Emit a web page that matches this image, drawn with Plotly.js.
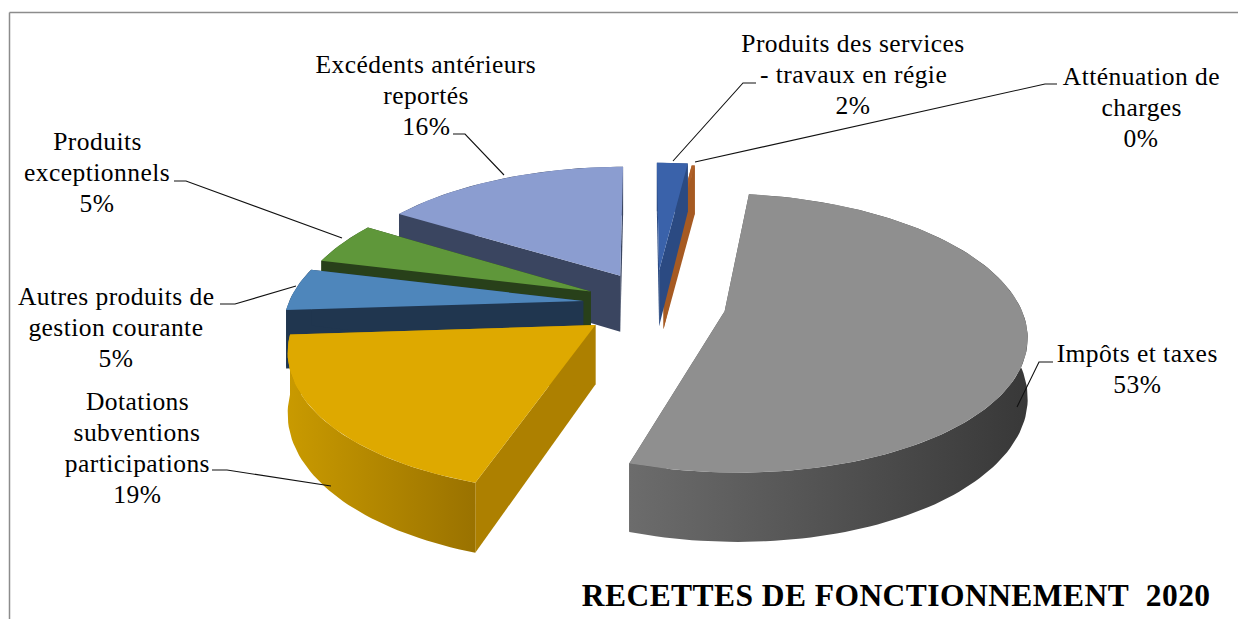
<!DOCTYPE html>
<html><head><meta charset="utf-8">
<script src="https://cdn.plot.ly/plotly-3.0.1.min.js"></script>
<style>html,body{margin:0;padding:0;background:#fff}#c{width:1238px;height:619px}
#c .annotation-text{letter-spacing:0.45px}</style>
</head><body><div id="c"></div>
<script>
// Data, clockwise starting from the first slice
const categories = ["Produits des services|- travaux en régie","Atténuation de|charges","Impôts et taxes","Dotations|subventions|participations","Autres produits de|gestion courante","Produits|exceptionnels","Excédents antérieurs|reportés"];
const values = [2, 0.2, 53, 19, 5, 5, 16];
// Styles
const topColors = ["#3a62aa","#b06028","#8f8f8f","#dea900","#4e86bb","#5f973a","#8b9dd0"];
const wallLeft  = ["#2b4a82","#a65a22","#6c6c6c","#c99a00","#20364f","#28401a","#3a4560"];
const wallRight = ["#2b4a82","#a65a22","#383838","#9a7200","#20364f","#28401a","#3a4560"];
const cutColors = ["#2b4a82","#a65a22","#555555","#ad8000","#20364f","#28401a","#3a4560"];
const pulls = [0.26,0.24,0.24,0.25,0.245,0.24,0.25];
const drawOrder = [6,1,0,5,4,2,3];
// Label placement
const labelX = [853,1141,1137,137,116,97,426];
const labelY = [74,107,369,448,327,172,95];
const leaders = [[[756,83],[743,83],[673,161]],[[1057,84],[1045,84],[695,162]],[[1053,362],[1039,362],[1017,407]],[[212,470],[227,470],[331,486]],[[220,304],[235,304],[296,286]],[[174,181],[186,181],[342,238]],[[453,134],[465,134],[504,175]]];
// View
const startDeg = -0.4, cx = 655, cy = 304, rx = 295, ry = 134, k = 0.155, depth = 58, lineStep = 31;

const total = values.reduce((a,b)=>a+b,0);
const rad = d => d*Math.PI/180;
function proj(X,Y,z){const s=1/(1+k*Y);return [cx+rx*X*s, cy-ry*Y*s+z*depth*s];}
let acc = startDeg;
const slices = values.map((v,i)=>{const a=acc,b=acc+v/total*360;acc=b;return {i,a,b,m:(a+b)/2};});
function pt(sl,t,r,z){const p=pulls[sl.i];return proj(p*Math.sin(rad(sl.m))+r*Math.sin(rad(t)),p*Math.cos(rad(sl.m))+r*Math.cos(rad(t)),z);}
function poly(pts,color,grad){
  const tr={type:'scatter',mode:'lines',x:pts.map(p=>p[0]),y:pts.map(p=>p[1]),fill:'toself',line:{width:0,color:color},hoverinfo:'skip',fillcolor:color};
  if(grad) tr.fillgradient={type:'horizontal',colorscale:[[0,grad[0]],[1,grad[1]]]};
  return tr;
}
const traces=[];
drawOrder.forEach(i=>{
  const sl=slices[i], arc=[], steps=Math.max(4,Math.ceil((sl.b-sl.a)/1.5));
  for(let n=0;n<=steps;n++) arc.push(sl.a+(sl.b-sl.a)*n/steps);
  [sl.a,sl.b].forEach(t=>traces.push(poly([pt(sl,t,0,0),pt(sl,t,1,0),pt(sl,t,1,1),pt(sl,t,0,1)],cutColors[i])));
  const wall=arc.map(t=>pt(sl,t,1,0)).concat(arc.slice().reverse().map(t=>pt(sl,t,1,1)));
  traces.push(poly(wall,wallRight[i],[wallLeft[i],wallRight[i]]));
  traces.push(poly([pt(sl,sl.a,0,0)].concat(arc.map(t=>pt(sl,t,1,0))),topColors[i]));
});
leaders.forEach(l=>traces.push({type:'scatter',mode:'lines',x:l.map(p=>p[0]),y:l.map(p=>p[1]),line:{color:'#111',width:1.1},hoverinfo:'skip'}));
const font={family:'"Liberation Serif",serif',size:25.5,color:'#000'};
const annotations=[];
categories.forEach((c,i)=>{
  const lines=c.split('|').concat([Math.round(values[i])+'%']);
  lines.forEach((t,n)=>annotations.push({x:labelX[i],y:labelY[i]+(n-(lines.length-1)/2)*lineStep,xref:'x',yref:'y',text:t,showarrow:false,xanchor:'center',yanchor:'middle',align:'center',font}));
});
annotations.push({x:896,y:595,xref:'x',yref:'y',text:'<b>RECETTES DE FONCTIONNEMENT&nbsp;&nbsp;2020</b>',showarrow:false,xanchor:'center',yanchor:'middle',font:{family:'"Liberation Serif",serif',size:31.5,color:'#000'}});
const layout={width:1238,height:619,margin:{l:0,r:0,t:0,b:0},paper_bgcolor:'#fff',plot_bgcolor:'#fff',showlegend:false,
  xaxis:{range:[0,1238],visible:false,fixedrange:true},yaxis:{range:[619,0],visible:false,fixedrange:true},annotations,
  shapes:[{type:'line',xref:'x',yref:'y',x0:9.5,x1:9.5,y0:12.5,y1:619,line:{color:'#8c8c8c',width:1.5}},{type:'line',xref:'x',yref:'y',x0:9.5,x1:1238,y0:12.5,y1:12.5,line:{color:'#8c8c8c',width:1.5}}]};
Plotly.newPlot('c',traces,layout,{displayModeBar:false,staticPlot:true});
</script></body></html>
